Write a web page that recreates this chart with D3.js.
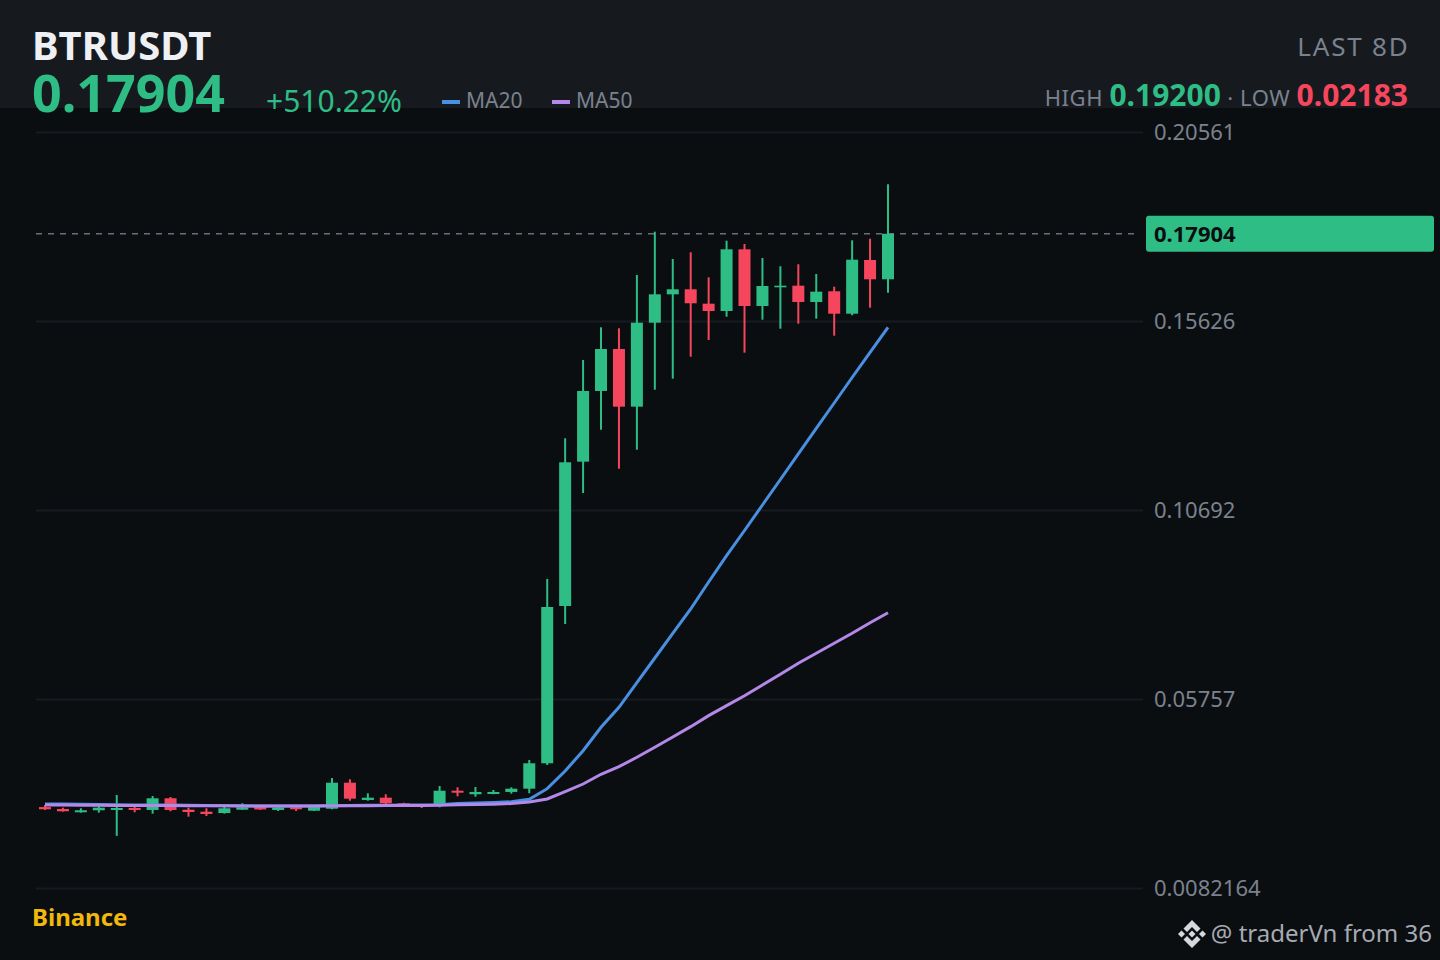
<!DOCTYPE html>
<html>
<head>
<meta charset="utf-8">
<title>BTRUSDT</title>
<script src="https://cdn.jsdelivr.net/npm/d3@7"></script>
<style>
    html, body { margin: 0; padding: 0; background: #0b0e11; }
    svg { display: block; }
    text { font-family: "Noto Sans", sans-serif; }
</style>
</head>
<body>
<svg width="1440" height="960"></svg>
<script>
const symbol = 'BTRUSDT';
const lastPrice = 0.17904;
const lastLabel = '0.17904';
const changeLabel = '+510.22%';
const highLabel = '0.19200';
const lowLabel = '0.02183';
const rangeLabel = 'LAST 8D';
const exchange = 'Binance';
const credit = '@ traderVn from 36';

const tickValues = [0.20561, 0.15626, 0.10692, 0.05757, 0.0082164];
const tickLabels = ['0.20561', '0.15626', '0.10692', '0.05757', '0.0082164'];

const opens = [0.02934, 0.02885, 0.02799, 0.02851, 0.02859, 0.02911, 0.02859, 0.03164, 0.02866, 0.02814, 0.0278, 0.02866,
    0.02937, 0.02859, 0.02929, 0.0284, 0.02892, 0.03571, 0.0312, 0.0318, 0.03034, 0.02981, 0.02989, 0.03362,
    0.03269, 0.03276, 0.03329, 0.03415, 0.04078, 0.08185, 0.11953, 0.13799, 0.14895, 0.13389, 0.15582, 0.16323,
    0.16454, 0.16078, 0.15887, 0.17498, 0.16018, 0.16506, 0.16548, 0.16122, 0.16402, 0.15817, 0.17219, 0.16715];
const highs = [0.02989, 0.02919, 0.02903, 0.03034, 0.0325, 0.02963, 0.03224, 0.03198, 0.02919, 0.02903, 0.02963, 0.03034,
    0.02963, 0.02976, 0.02963, 0.02963, 0.03694, 0.0366, 0.03295, 0.03269, 0.03049, 0.03002, 0.03485, 0.03451,
    0.03459, 0.03381, 0.03451, 0.04164, 0.0889, 0.12564, 0.14608, 0.15462, 0.15436, 0.16827, 0.17958, 0.17245,
    0.1742, 0.16767, 0.17723, 0.17637, 0.17271, 0.17055, 0.17107, 0.16854, 0.16522, 0.17733, 0.17775, 0.192];
const lows = [0.02859, 0.02814, 0.02788, 0.02788, 0.02183, 0.02799, 0.02762, 0.02825, 0.02684, 0.02702, 0.02762, 0.02859,
    0.02859, 0.02832, 0.02832, 0.02832, 0.02877, 0.03101, 0.03101, 0.03015, 0.02963, 0.02911, 0.02929, 0.03216,
    0.03206, 0.03269, 0.03284, 0.03295, 0.04034, 0.07715, 0.11135, 0.12788, 0.1177, 0.12266, 0.13833, 0.1412,
    0.14694, 0.1513, 0.15739, 0.14799, 0.1566, 0.15425, 0.15556, 0.15687, 0.15243, 0.15775, 0.15974, 0.16365];
const closes = [0.02877, 0.02825, 0.02851, 0.02919, 0.02911, 0.02859, 0.03164, 0.02859, 0.02806, 0.02754, 0.02903, 0.02929,
    0.02872, 0.02924, 0.02877, 0.02945, 0.03571, 0.03154, 0.0318, 0.03034, 0.02981, 0.02963, 0.03362, 0.0331,
    0.03329, 0.03329, 0.03415, 0.04078, 0.08159, 0.11937, 0.13799, 0.14895, 0.13389, 0.15582, 0.16323, 0.16454,
    0.16089, 0.15887, 0.17498, 0.16018, 0.1654, 0.16548, 0.16122, 0.16392, 0.15817, 0.17227, 0.16715, 0.17904];

const ma20 = [0.03015, 0.03015, 0.03007, 0.03002, 0.02997, 0.02989, 0.02989, 0.02989, 0.02981, 0.02976, 0.02971, 0.02968,
    0.02963, 0.02963, 0.02963, 0.02963, 0.02968, 0.02976, 0.02981, 0.02984, 0.02989, 0.02989, 0.02994, 0.03028,
    0.03041, 0.03054, 0.03073, 0.03138, 0.03415, 0.03877, 0.04407, 0.05018, 0.0554, 0.06182, 0.06827, 0.07467,
    0.08107, 0.08812, 0.09498, 0.10156, 0.10822, 0.11488, 0.12154, 0.12825, 0.13485, 0.14151, 0.14804, 0.15462];
const ma50 = [0.02989, 0.02986, 0.02984, 0.02981, 0.02979, 0.02976, 0.02976, 0.02973, 0.02971, 0.02968, 0.02966, 0.02963,
    0.02963, 0.02963, 0.02963, 0.02963, 0.02966, 0.02968, 0.02971, 0.02973, 0.02976, 0.02976, 0.02981, 0.02994,
    0.03002, 0.0301, 0.03026, 0.03067, 0.03146, 0.03336, 0.03537, 0.03791, 0.03989, 0.04235, 0.04496, 0.04765,
    0.05034, 0.05323, 0.05582, 0.05843, 0.06122, 0.06402, 0.06689, 0.0695, 0.07211, 0.07472, 0.07749, 0.0801];

const green = '#2ebd85';
const red = '#f6465d';
const blue = '#4a90e2';
const purple = '#b388e8';
const grey = '#7b828e';

const svg = d3.select('svg');

svg.append('rect').attr('width', 1440).attr('height', 960).attr('fill', '#0b0e11');
svg.append('rect').attr('width', 1440).attr('height', 108).attr('fill', '#161a1f');

const xScale = d3.scalePoint()
    .domain(d3.range(closes.length))
    .range([45, 888]);
const yScale = d3.scaleLinear()
    .domain([tickValues[4], tickValues[0]])
    .range([888, 132]);

// grid and price labels
const yAxis = d3.axisRight(yScale)
    .tickValues(tickValues)
    .tickFormat((d, i) => tickLabels[i])
    .tickSize(-1107)
    .tickPadding(11);
const yAxisG = svg.append('g')
    .attr('transform', 'translate(1143,0)')
    .call(yAxis);
yAxisG.select('.domain').remove();
yAxisG.selectAll('line').attr('stroke', '#171b20').attr('stroke-width', 2);
yAxisG.selectAll('text')
    .attr('fill', grey)
    .attr('font-size', 22)
    .style('font-family', '"Noto Sans", sans-serif');

// last price line and tag
svg.append('line')
    .attr('x1', 36)
    .attr('x2', 1136)
    .attr('y1', yScale(lastPrice))
    .attr('y2', yScale(lastPrice))
    .attr('stroke', '#6a707a')
    .attr('stroke-width', 1.5)
    .attr('stroke-dasharray', '6 6');
svg.append('rect')
    .attr('x', 1146)
    .attr('y', yScale(lastPrice) - 18)
    .attr('width', 288)
    .attr('height', 36)
    .attr('rx', 3)
    .attr('fill', green);
svg.append('text')
    .attr('x', 1154)
    .attr('y', yScale(lastPrice) + 8)
    .attr('font-size', 22)
    .attr('font-weight', 700)
    .attr('fill', '#0b0e11')
    .text(lastLabel);

// candles
const candleColor = i => closes[i] >= opens[i] ? green : red;
const candles = svg.append('g')
    .selectAll('g')
    .data(closes)
    .join('g');
candles.append('line')
    .attr('x1', (d, i) => xScale(i))
    .attr('x2', (d, i) => xScale(i))
    .attr('y1', (d, i) => yScale(highs[i]))
    .attr('y2', (d, i) => yScale(lows[i]))
    .attr('stroke', (d, i) => candleColor(i))
    .attr('stroke-width', 2);
candles.append('rect')
    .attr('x', (d, i) => xScale(i) - 6)
    .attr('width', 12)
    .attr('y', (d, i) => yScale(Math.max(opens[i], closes[i])))
    .attr('height', (d, i) => Math.max(1.5, Math.abs(yScale(opens[i]) - yScale(closes[i]))))
    .attr('fill', (d, i) => candleColor(i));

// moving averages
const line = d3.line()
    .x((d, i) => xScale(i))
    .y(d => yScale(d));
svg.append('path')
    .attr('d', line(ma20))
    .attr('fill', 'none')
    .attr('stroke', blue)
    .attr('stroke-width', 3);
svg.append('path')
    .attr('d', line(ma50))
    .attr('fill', 'none')
    .attr('stroke', purple)
    .attr('stroke-width', 3);

// header
const addText = (x, y, size, weight, fill, label, anchor, spacing) => svg.append('text')
    .attr('x', x)
    .attr('y', y)
    .attr('font-size', size)
    .attr('font-weight', weight)
    .attr('fill', fill)
    .attr('text-anchor', anchor || 'start')
    .attr('letter-spacing', spacing || 0)
    .text(label);

addText(32, 60, 40, 700, '#eef0f3', symbol);
addText(32, 112, 52, 700, green, lastLabel);
addText(266, 112, 30, 400, green, changeLabel);

svg.append('rect').attr('x', 442).attr('y', 100).attr('width', 18).attr('height', 4).attr('fill', blue);
addText(466, 108, 21, 400, grey, 'MA20');
svg.append('rect').attr('x', 552).attr('y', 100).attr('width', 18).attr('height', 4).attr('fill', purple);
addText(576, 108, 21, 400, grey, 'MA50');

addText(1409.5, 56, 26, 400, grey, rangeLabel, 'end', 1.8);

const highLow = svg.append('text')
    .attr('x', 1408)
    .attr('y', 106)
    .attr('text-anchor', 'end')
    .attr('font-size', 22)
    .attr('fill', grey);
highLow.append('tspan').attr('letter-spacing', 0.6).text('HIGH ');
highLow.append('tspan').attr('font-size', 30).attr('font-weight', 700).attr('fill', green).text(highLabel);
highLow.append('tspan').attr('letter-spacing', 0.6).text(' · LOW ');
highLow.append('tspan').attr('font-size', 30).attr('font-weight', 700).attr('fill', red).text(lowLabel);

// footer
addText(32, 926, 24, 700, '#f0b90b', exchange);
addText(1432, 942, 24, 400, '#a6abb3', credit, 'end');

const logo = svg.append('g')
    .attr('transform', 'translate(1192,934)')
    .attr('fill', '#d5d8dc');
logo.append('path').attr('d', 'M0,-14 L8.5,-5.5 L5,-2 L0,-7 L-5,-2 L-8.5,-5.5 Z');
logo.append('path').attr('d', 'M0,14 L8.5,5.5 L5,2 L0,7 L-5,2 L-8.5,5.5 Z');
logo.append('path').attr('d', 'M-14,0 L-10.5,-3.5 L-7,0 L-10.5,3.5 Z');
logo.append('path').attr('d', 'M14,0 L10.5,-3.5 L7,0 L10.5,3.5 Z');
logo.append('path').attr('d', 'M0,-3.5 L3.5,0 L0,3.5 L-3.5,0 Z');
</script>
</body>
</html>
